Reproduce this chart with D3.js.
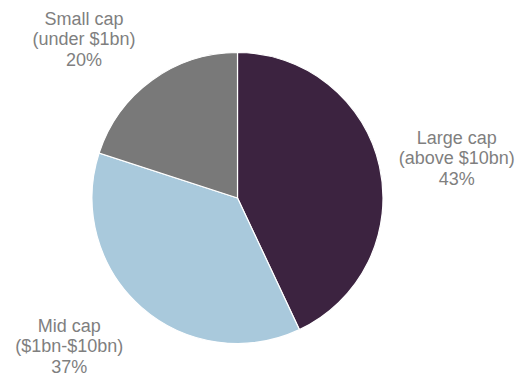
<!DOCTYPE html>
<html>
<head>
<meta charset="utf-8">
<script src="https://cdn.jsdelivr.net/npm/d3@7"></script>
<style>
  html, body { margin: 0; padding: 0; background: #fff; }
  svg { display: block; }
</style>
</head>
<body>
<svg id="chart" width="526" height="378"></svg>
<script>
// Market-cap breakdown, clockwise from 12 o'clock
const categories = ["Large cap", "Mid cap", "Small cap"];
const subLabels = ["(above $10bn)", "($1bn-$10bn)", "(under $1bn)"];
const shares = [43, 37, 20];
const colors = ["#3c2340", "#a9c9dc", "#797979"];
// small nudges for the outside labels, relative to their arc centroid
const labelNudgeX = [24, -36, -36];
const labelNudgeY = [4, -2, 3];

const width = 526, height = 378;
const cx = 237.5, cy = 198, radius = 145.5;

const svg = d3.select("#chart");
const g = svg.append("g").attr("transform", `translate(${cx},${cy})`);

const data = categories.map((c, i) => ({ name: c, sub: subLabels[i], value: shares[i], i }));

const pie = d3.pie().value(d => d.value).sort(null);
const arcs = pie(data);

const arc = d3.arc().innerRadius(0).outerRadius(radius);
const labelArc = d3.arc().innerRadius(200).outerRadius(200);

g.selectAll("path.slice")
  .data(arcs)
  .join("path")
  .attr("class", "slice")
  .attr("d", arc)
  .attr("fill", d => colors[d.data.i])
  .attr("stroke", "#ffffff")
  .attr("stroke-width", 1.2);

const lineH = 20.5;
const labels = g.selectAll("text.lbl")
  .data(arcs)
  .join("text")
  .attr("class", "lbl")
  .attr("text-anchor", "middle")
  .attr("font-family", "Liberation Sans, Arial, sans-serif")
  .attr("font-size", 18)
  .attr("fill", "#7f7f7f")
  .attr("transform", d => {
    const [x, y] = labelArc.centroid(d);
    return `translate(${x + labelNudgeX[d.data.i]},${y + labelNudgeY[d.data.i]})`;
  });

labels.each(function(d) {
  const t = d3.select(this);
  const lines = [d.data.name, d.data.sub, d.data.value + "%"];
  lines.forEach((s, k) => {
    t.append("tspan")
      .attr("x", 0)
      .attr("y", (k - 1) * lineH + 6)
      .text(s);
  });
});
</script>
</body>
</html>
